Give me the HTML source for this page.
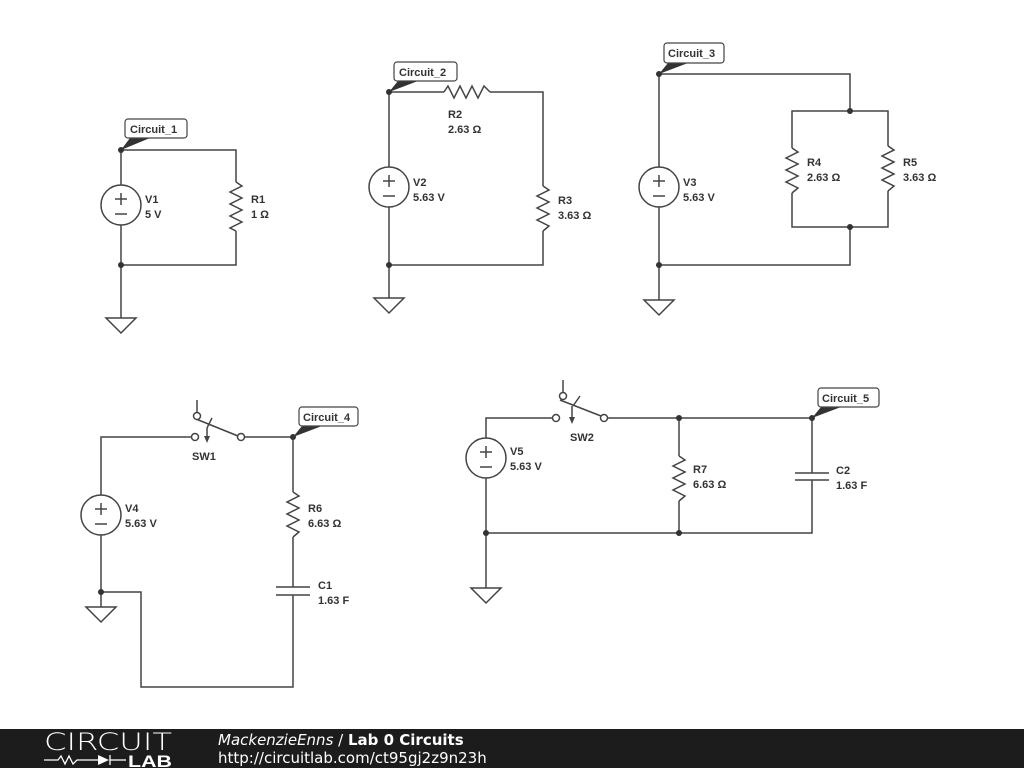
<!DOCTYPE html>
<html><head><meta charset="utf-8"><style>
body{margin:0;width:1024px;height:768px;background:#fff;overflow:hidden;position:relative;font-family:"Liberation Sans",sans-serif}
svg text{font-family:"Liberation Sans",sans-serif;font-size:11px;font-weight:bold;fill:#333}
.ft{position:absolute;left:0;top:729px;width:1024px;height:39px;background:#1c1c1c}
</style></head><body>
<svg width="1024" height="729" viewBox="0 0 1024 729" style="position:absolute;left:0;top:0">
<defs>
<g id="gnd"><polygon points="-15,0 15,0 0,15" fill="#fff" stroke="#444" stroke-width="1.5"/></g>
</defs>
<g stroke="#444" stroke-width="1.5" fill="none">
<polyline points="121,185 121,150 236,150 236,182"/>
<polyline points="236,182 242,186 230,192 242,198 230,204 242,210 230,216 242,222 230,228 236,231"/>
<polyline points="236,231 236,265 121,265"/>
<line x1="121" y1="225" x2="121" y2="318"/>
<circle cx="121" cy="205" r="20" fill="#fff"/>
<polyline points="389,167 389,92 444,92"/>
<polyline points="444,92 448,86 454,98 460,86 466,98 472,86 478,98 484,86 490,92"/>
<polyline points="490,92 543,92 543,186"/>
<polyline points="543,186 549,190 537,196 549,202 537,208 549,214 537,220 549,226 543,231"/>
<polyline points="543,231 543,265 389,265"/>
<line x1="389" y1="207" x2="389" y2="298"/>
<circle cx="389" cy="187" r="20" fill="#fff"/>
<polyline points="659,167 659,74 850,74 850,111"/>
<polyline points="792,148 792,111 888,111 888,146"/>
<polyline points="792,148 798,152 786,158 798,164 786,170 798,176 786,182 798,188 792,193"/>
<polyline points="888,146 894,150 882,156 894,162 882,168 894,174 882,180 894,186 888,191"/>
<polyline points="792,193 792,227 888,227 888,191"/>
<polyline points="850,227 850,265 659,265"/>
<line x1="659" y1="207" x2="659" y2="300"/>
<circle cx="659" cy="187" r="20" fill="#fff"/>
<polyline points="101,495 101,437 192,437"/>
<line x1="244" y1="437" x2="293" y2="437"/>
<polyline points="293,437 293,492"/>
<polyline points="293,492 299,496 287,502 299,508 287,514 299,520 287,526 299,532 293,537"/>
<polyline points="293,537 293,587"/>
<line x1="276" y1="587" x2="310" y2="587"/><line x1="276" y1="595" x2="310" y2="595"/>
<polyline points="293,595 293,687 141,687 141,592 101,592"/>
<line x1="101" y1="535" x2="101" y2="607"/>
<circle cx="101" cy="515" r="20" fill="#fff"/>
<line x1="197" y1="400" x2="197" y2="412"/>
<line x1="196" y1="419" x2="238" y2="436"/>
<line x1="212" y1="418" x2="207" y2="428"/>
<line x1="207" y1="428" x2="207" y2="440"/>
<polyline points="486,438 486,418 552,418"/>
<polyline points="607,418 812,418 812,473"/>
<line x1="795" y1="473" x2="829" y2="473"/><line x1="795" y1="480" x2="829" y2="480"/>
<polyline points="812,480 812,533 486,533"/>
<polyline points="679,418 679,456"/>
<polyline points="679,456 685,460 673,466 685,472 673,478 685,484 673,490 685,496 679,501"/>
<line x1="679" y1="501" x2="679" y2="533"/>
<line x1="486" y1="478" x2="486" y2="588"/>
<circle cx="486" cy="458" r="20" fill="#fff"/>
<line x1="563" y1="380" x2="563" y2="393"/>
<line x1="560" y1="400" x2="601" y2="416"/>
<line x1="580" y1="396" x2="573" y2="406"/>
<line x1="572" y1="406" x2="572" y2="420"/>
</g>
<g fill="#444">
<polygon points="207,443 204,436 210,436"/>
<polygon points="572,424 569,417 575,417"/>
</g>
<g stroke="#444" stroke-width="1.5" fill="#fff">
<circle cx="195" cy="437" r="3.5"/><circle cx="241" cy="437" r="3.5"/><circle cx="197" cy="416" r="3.5"/>
<circle cx="556" cy="418" r="3.5"/><circle cx="604" cy="418" r="3.5"/><circle cx="563" cy="396" r="3.5"/>
</g>
<g stroke="#444" stroke-width="1.5">
<line x1="115" y1="199" x2="127" y2="199"/><line x1="121" y1="193" x2="121" y2="205"/><line x1="115" y1="214" x2="127" y2="214"/>
<line x1="383" y1="181" x2="395" y2="181"/><line x1="389" y1="175" x2="389" y2="187"/><line x1="383" y1="196" x2="395" y2="196"/>
<line x1="653" y1="181" x2="665" y2="181"/><line x1="659" y1="175" x2="659" y2="187"/><line x1="653" y1="196" x2="665" y2="196"/>
<line x1="95" y1="509" x2="107" y2="509"/><line x1="101" y1="503" x2="101" y2="515"/><line x1="95" y1="524" x2="107" y2="524"/>
<line x1="480" y1="452" x2="492" y2="452"/><line x1="486" y1="446" x2="486" y2="458"/><line x1="480" y1="467" x2="492" y2="467"/>
</g>
<use href="#gnd" x="121" y="318"/><use href="#gnd" x="389" y="298"/><use href="#gnd" x="659" y="300"/>
<use href="#gnd" x="101" y="607"/><use href="#gnd" x="486" y="588"/>
<g fill="#333">
<circle cx="121" cy="150" r="3"/><circle cx="121" cy="265" r="3"/>
<circle cx="389" cy="92" r="3"/><circle cx="389" cy="265" r="3"/>
<circle cx="659" cy="74" r="3"/><circle cx="659" cy="265" r="3"/><circle cx="850" cy="111" r="3"/><circle cx="850" cy="227" r="3"/>
<circle cx="293" cy="437" r="3"/><circle cx="101" cy="592" r="3"/>
<circle cx="812" cy="418" r="3"/><circle cx="679" cy="418" r="3"/><circle cx="679" cy="533" r="3"/><circle cx="486" cy="533" r="3"/>
<polygon points="121,150 130,138 150,138"/>
<polygon points="389,92 398,81 418,81"/>
<polygon points="659,74 668,63 688,63"/>
<polygon points="293,437 302,426 322,426"/>
<polygon points="812,418 821,407 841,407"/>
</g>
<g fill="#fff" stroke="#444" stroke-width="1.2">
<rect x="125" y="119" width="62" height="19" rx="3"/>
<rect x="394" y="62" width="63" height="19" rx="3"/>
<rect x="664" y="43" width="60" height="20" rx="3"/>
<rect x="299" y="407" width="59" height="19" rx="3"/>
<rect x="818" y="388" width="61" height="19" rx="3"/>
</g>
<text x="130" y="133">Circuit_1</text>
<text x="399" y="76">Circuit_2</text>
<text x="668" y="57">Circuit_3</text>
<text x="303" y="421">Circuit_4</text>
<text x="822" y="402">Circuit_5</text>
<text x="145" y="203">V1</text><text x="145" y="218">5 V</text>
<text x="251" y="203">R1</text><text x="251" y="218">1 Ω</text>
<text x="413" y="186">V2</text><text x="413" y="201">5.63 V</text>
<text x="448" y="118">R2</text><text x="448" y="133">2.63 Ω</text>
<text x="558" y="204">R3</text><text x="558" y="219">3.63 Ω</text>
<text x="683" y="186">V3</text><text x="683" y="201">5.63 V</text>
<text x="807" y="166">R4</text><text x="807" y="181">2.63 Ω</text>
<text x="903" y="166">R5</text><text x="903" y="181">3.63 Ω</text>
<text x="125" y="512">V4</text><text x="125" y="527">5.63 V</text>
<text x="192" y="460">SW1</text>
<text x="308" y="512">R6</text><text x="308" y="527">6.63 Ω</text>
<text x="318" y="589">C1</text><text x="318" y="604">1.63 F</text>
<text x="510" y="455">V5</text><text x="510" y="470">5.63 V</text>
<text x="570" y="441">SW2</text>
<text x="693" y="473">R7</text><text x="693" y="488">6.63 Ω</text>
<text x="836" y="474">C2</text><text x="836" y="489">1.63 F</text>
</svg>
<div class="ft">
<svg style="position:absolute;left:40px;top:0" width="140" height="39">
<text x="4" y="21" textLength="128" lengthAdjust="spacingAndGlyphs" style="font-family:'DejaVu Sans',sans-serif;font-weight:200;font-size:24px;fill:#fff">CIRCUIT</text>
<g stroke="#fff" stroke-width="1.3" fill="none"><polyline points="4,31 18,31 21,27 25,35 29,27 33,35 37,31 58,31"/><line x1="70" y1="26" x2="70" y2="36"/><line x1="70" y1="31" x2="86" y2="31"/></g>
<polygon points="58,26 58,36 69,31" fill="#fff"/>
<text x="88" y="38" textLength="44" lengthAdjust="spacingAndGlyphs" style="font-family:'Liberation Sans',sans-serif;font-weight:bold;font-size:17px;fill:#fff">LAB</text>
</svg>
<div style="position:absolute;left:218px;top:2px;color:#fff;font-size:15px;font-family:'DejaVu Sans',sans-serif"><i>MackenzieEnns</i> / <b>Lab 0 Circuits</b></div>
<div style="position:absolute;left:218px;top:20px;color:#fff;font-size:15px;font-family:'DejaVu Sans',sans-serif">http://circuitlab.com/ct95gj2z9n23h</div>
</div>
</body></html>
